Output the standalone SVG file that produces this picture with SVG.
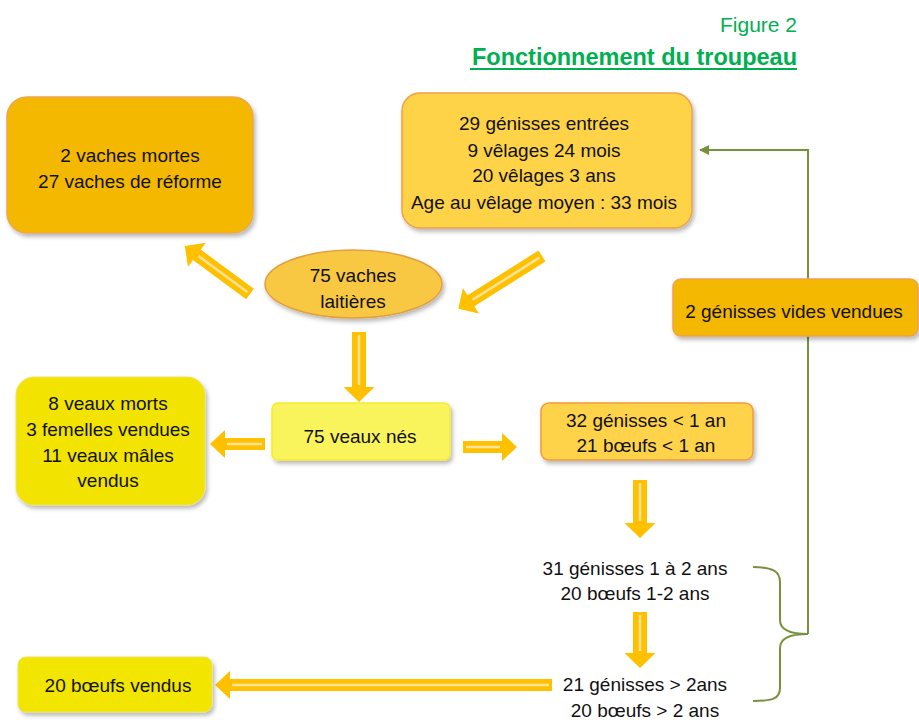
<svg xmlns="http://www.w3.org/2000/svg" width="919" height="720" viewBox="0 0 919 720">
<style>
  text { font-family: "Liberation Sans", Arial, sans-serif; font-size: 19px; fill: #111; text-anchor: middle; }
  .title { fill: #00B050; text-anchor: end; }
  .arrow { fill: #FFC000; }
  .stripe { stroke: #FFE39A; stroke-width: 2.5; fill: none; }
  .green { stroke: #76923C; stroke-width: 2; fill: none; }
</style>
<defs>
  <filter id="sh" x="-10%" y="-10%" width="125%" height="135%">
    <feDropShadow dx="2" dy="3" stdDeviation="2" flood-color="#000" flood-opacity="0.28"/>
  </filter>
  <marker id="gh" markerWidth="10" markerHeight="10" refX="9" refY="5" orient="auto" markerUnits="userSpaceOnUse" viewBox="0 0 10 10">
    <path d="M0,0 L10,5 L0,10 Z" fill="#76923C"/>
  </marker>
</defs>
<rect width="919" height="720" fill="#fff"/>

<g id="title">
  <text class="title" x="797" y="32" style="font-size:21px">Figure 2</text>
  <text class="title" x="797" y="65" style="font-size:23.5px;font-weight:bold">Fonctionnement du troupeau</text>
  <line x1="470" y1="69" x2="797" y2="69" stroke="#00B050" stroke-width="2"/>
</g>

<g id="connectors">
  <path class="green" d="M808,634 V150 H700" marker-end="url(#gh)"/>
  <path class="green" d="M753,567 C772,567 780,571 780,582 V620 C780,630 792,634 808,634 C792,634 780,638 780,648 V688 C780,699 772,701 753,701"/>
  <g transform="translate(250,294) rotate(216.4)"><path class="arrow" d="M0,-6.5 H66 V-15 L81,0 L66,15 V6.5 H0 Z"/><line class="stripe" x1="3" y1="0" x2="64" y2="0"/></g>
  <g transform="translate(542,256) rotate(147.8)"><path class="arrow" d="M0,-6.5 H84 V-15 L99,0 L84,15 V6.5 H0 Z"/><line class="stripe" x1="3" y1="0" x2="82" y2="0"/></g>
  <g transform="translate(359,332) rotate(90)"><path class="arrow" d="M0,-7 H55 V-15.5 L70,0 L55,15.5 V7 H0 Z"/><line class="stripe" x1="3" y1="0" x2="53" y2="0"/></g>
  <g transform="translate(265,444) rotate(180)"><path class="arrow" d="M0,-6 H40 V-14 L55,0 L40,14 V6 H0 Z"/><line class="stripe" x1="3" y1="0" x2="38" y2="0"/></g>
  <g transform="translate(463,447)"><path class="arrow" d="M0,-6 H39 V-14 L54,0 L39,14 V6 H0 Z"/><line class="stripe" x1="3" y1="0" x2="37" y2="0"/></g>
  <g transform="translate(640,480) rotate(90)"><path class="arrow" d="M0,-7 H43 V-15.5 L58,0 L43,15.5 V7 H0 Z"/><line class="stripe" x1="3" y1="0" x2="41" y2="0"/></g>
  <g transform="translate(640,612) rotate(90)"><path class="arrow" d="M0,-7 H41 V-15.5 L56,0 L41,15.5 V7 H0 Z"/><line class="stripe" x1="3" y1="0" x2="39" y2="0"/></g>
  <g transform="translate(552,685) rotate(180)"><path class="arrow" d="M0,-6 H322 V-14 L337,0 L322,14 V6 H0 Z"/><line class="stripe" x1="3" y1="0" x2="320" y2="0"/></g>
</g>

<g id="vaches-sorties">
  <rect x="7" y="97" width="246" height="136" rx="20" fill="#F5B800" stroke="#EBA84A" stroke-width="1.5" filter="url(#sh)"/>
  <text x="130" y="162">2 vaches mortes</text>
  <text x="130" y="188">27 vaches de réforme</text>
</g>

<g id="genisses-entrees">
  <rect x="402" y="93" width="290" height="135" rx="18" fill="#FFD347" stroke="#F0A04A" stroke-width="1.5" filter="url(#sh)"/>
  <text x="544" y="130">29 génisses entrées</text>
  <text x="544" y="157">9 vêlages 24 mois</text>
  <text x="544" y="182">20 vêlages 3 ans</text>
  <text x="544" y="209">Age au vêlage moyen : 33 mois</text>
</g>

<g id="vaches-laitieres">
  <ellipse cx="353.5" cy="284" rx="88.5" ry="34" fill="#F9C843" stroke="#E0A040" stroke-width="1.5" filter="url(#sh)"/>
  <text x="353" y="282">75 vaches</text>
  <text x="353" y="308">laitières</text>
</g>

<g id="genisses-vides">
  <rect x="673" y="279" width="245" height="57" rx="8" fill="#F5B800" stroke="#F0A050" stroke-width="1.5" filter="url(#sh)"/>
  <text x="794" y="318">2 génisses vides vendues</text>
</g>

<g id="veaux-sorties">
  <rect x="16" y="377" width="189" height="128" rx="18" fill="#F2E400" stroke="#EEE060" stroke-width="1" filter="url(#sh)"/>
  <text x="108" y="410">8 veaux morts</text>
  <text x="108" y="436">3 femelles vendues</text>
  <text x="108" y="462">11 veaux mâles</text>
  <text x="108" y="487">vendus</text>
</g>

<g id="veaux-nes">
  <rect x="272" y="403" width="178" height="57" rx="6" fill="#FAF45C" stroke="#F4EC30" stroke-width="1.5" filter="url(#sh)"/>
  <text x="360" y="443">75 veaux nés</text>
</g>

<g id="moins-1-an">
  <rect x="541" y="403" width="212" height="57" rx="8" fill="#FFD34A" stroke="#F29A3A" stroke-width="1.5" filter="url(#sh)"/>
  <text x="646" y="427">32 génisses &lt; 1 an</text>
  <text x="646" y="452">21 bœufs &lt; 1 an</text>
</g>

<g id="un-a-deux-ans">
  <text x="635" y="575">31 génisses 1 à 2 ans</text>
  <text x="635" y="600">20 bœufs 1-2 ans</text>
</g>

<g id="plus-2-ans">
  <text x="645" y="691">21 génisses &gt; 2ans</text>
  <text x="645" y="717">20 bœufs &gt; 2 ans</text>
</g>

<g id="boeufs-vendus">
  <rect x="18" y="657" width="194" height="55" rx="8" fill="#F2E600" stroke="#EEE060" stroke-width="1" filter="url(#sh)"/>
  <text x="118" y="692">20 bœufs vendus</text>
</g>
</svg>
